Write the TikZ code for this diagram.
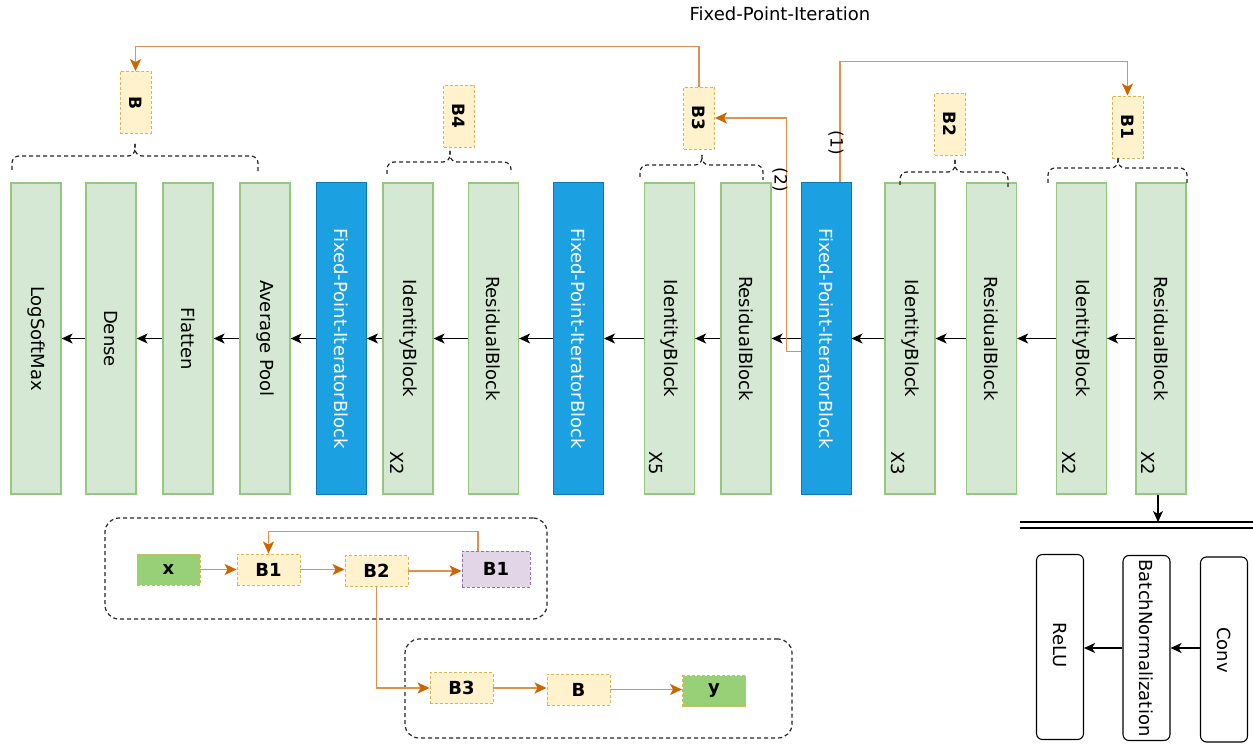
\documentclass[tikz,border=0pt]{standalone}
\usepackage{fontspec}
\setmainfont{DejaVu Sans}
\usetikzlibrary{arrows.meta}
\definecolor{gfill}{HTML}{D5E8D4}
\definecolor{gdraw}{HTML}{97C77F}
\definecolor{bfill}{HTML}{1BA1E2}
\definecolor{bdraw}{HTML}{0A78B8}
\definecolor{yfill}{HTML}{FFF2CC}
\definecolor{ydraw}{HTML}{D6B656}
\definecolor{xfill}{HTML}{97D077}
\definecolor{pfill}{HTML}{E1D5E7}
\definecolor{pdraw}{HTML}{9673A6}
\definecolor{orng}{HTML}{E0914E}
\definecolor{orngd}{HTML}{CC6600}
\newcommand{\mybrace}[7]{%
  \draw[brc] (#1,#2) -- (#1,#3) -- (#4,#3) -- (#4,#5);
  \draw[brc] (#4,#5) -- (#4,#3) -- (#6,#3) -- (#6,#7);}
\begin{document}
\begin{tikzpicture}[x=1pt,y=-1pt,font=\fontsize{18}{20}\selectfont,
  layer/.style={draw=gdraw,fill=gfill,line width=1.3pt,minimum width=50pt,minimum height=311pt,inner sep=0pt},
  fpib/.style={draw=bdraw,fill=bfill,line width=1pt,minimum width=50pt,minimum height=311pt,inner sep=0pt},
  bbox/.style={draw=ydraw,fill=yfill,line width=0.9pt,dash pattern=on 3pt off 2pt,minimum width=31pt,minimum height=62pt,inner sep=0pt},
  sbox/.style={draw=ydraw,fill=yfill,line width=0.9pt,dash pattern=on 3pt off 2pt,minimum width=63pt,minimum height=31pt,inner sep=0pt,font=\fontsize{18}{20}\selectfont\bfseries},
  rbox/.style={draw=black,fill=white,line width=1.1pt,rounded corners=6pt,minimum width=47pt,minimum height=185pt,inner sep=0pt},
  grp/.style={draw=black!85,line width=1.2pt,dash pattern=on 4pt off 3pt,rounded corners=14pt,inner sep=0pt},
  brc/.style={draw=black!85,line width=1.2pt,dash pattern=on 4pt off 3pt,rounded corners=7pt},
  vtxt/.style={rotate=-90,inner sep=0pt},
  barrow/.style={draw=black,line width=1.2pt,-{Stealth[length=11pt,width=10pt,inset=3pt]}},
  oarrow/.style={draw=orng,line width=1.7pt,-{Stealth[length=12pt,width=11pt,inset=3pt,color=orngd]}}]
\fill[white] (0,0) rectangle (1253,746);
\useasboundingbox (0,0) rectangle (1253,746);

\node (title) at (780,14) {Fixed-Point-Iteration};

% main layers
\node[layer] (ls) at (36,338.5) {};
\node[layer] (de) at (111,338.5) {};
\node[layer] (fl) at (188,338.5) {};
\node[layer] (ap) at (265,338.5) {};
\node[fpib]  (fp1) at (341.5,338.5) {};
\node[layer] (ib1) at (408,338.5) {};
\node[layer] (rb1) at (493.5,338.5) {};
\node[fpib]  (fp2) at (578.5,338.5) {};
\node[layer] (ib2) at (669.5,338.5) {};
\node[layer] (rb2) at (746,338.5) {};
\node[fpib]  (fp3) at (826,338.5) {};
\node[layer] (ib3) at (910,338.5) {};
\node[layer] (rb3) at (991.5,338.5) {};
\node[layer] (ib4) at (1081.5,338.5) {};
\node[layer] (rb4) at (1161,338.5) {};

\node[vtxt] (lsT) at (ls) {LogSoftMax};
\node[vtxt] (deT) at (de) {Dense};
\node[vtxt] (flT) at (fl) {Flatten};
\node[vtxt] (apT) at (ap) {Average Pool};
\node[vtxt,text=white] (fp1T) at (fp1) {Fixed-Point-IteratorBlock};
\node[vtxt] (ib1T) at (ib1) {IdentityBlock};
\node[vtxt] (rb1T) at (rb1) {ResidualBlock};
\node[vtxt,text=white] (fp2T) at (fp2) {Fixed-Point-IteratorBlock};
\node[vtxt] (ib2T) at (ib2) {IdentityBlock};
\node[vtxt] (rb2T) at (rb2) {ResidualBlock};
\node[vtxt,text=white] (fp3T) at (fp3) {Fixed-Point-IteratorBlock};
\node[vtxt] (ib3T) at (ib3) {IdentityBlock};
\node[vtxt] (rb3T) at (rb3) {ResidualBlock};
\node[vtxt] (ib4T) at (ib4) {IdentityBlock};
\node[vtxt] (rb4T) at (rb4) {ResidualBlock};

\node[vtxt] (x1) at (397,463) {X2};
\node[vtxt] (x2) at (656,463) {X5};
\node[vtxt] (x3) at (898,463) {X3};
\node[vtxt] (x4) at (1069,463) {X2};
\node[vtxt] (x5) at (1148,463) {X2};

% black arrows
\draw[barrow] (de.west) -- (ls.east);
\draw[barrow] (fl.west) -- (de.east);
\draw[barrow] (ap.west) -- (fl.east);
\draw[barrow] (fp1.west) -- (ap.east);
\draw[barrow] (ib1.west) -- (fp1.east);
\draw[barrow] (rb1.west) -- (ib1.east);
\draw[barrow] (fp2.west) -- (rb1.east);
\draw[barrow] (ib2.west) -- (fp2.east);
\draw[barrow] (rb2.west) -- (ib2.east);
\draw[barrow] (fp3.west) -- (rb2.east);
\draw[barrow] (ib3.west) -- (fp3.east);
\draw[barrow] (rb3.west) -- (ib3.east);
\draw[barrow] (ib4.west) -- (rb3.east);
\draw[barrow] (rb4.west) -- (ib4.east);

% B boxes
\node[bbox] (Bt) at (135.5,102.5) {};
\node[bbox] (B4t) at (459,116) {};
\node[bbox] (B3t) at (699,118) {};
\node[bbox] (B2t) at (950,124) {};
\node[bbox] (B1t) at (1127.5,127) {};
\node[vtxt,font=\fontsize{17}{20}\selectfont\bfseries] (BtT) at (Bt) {B};
\node[vtxt,font=\fontsize{17}{20}\selectfont\bfseries] (B4tT) at (B4t) {B4};
\node[vtxt,font=\fontsize{17}{20}\selectfont\bfseries] (B3tT) at (B3t) {B3};
\node[vtxt,font=\fontsize{17}{20}\selectfont\bfseries] (B2tT) at (B2t) {B2};
\node[vtxt,font=\fontsize{17}{20}\selectfont\bfseries] (B1tT) at (B1t) {B1};

% braces
\mybrace{12}{170}{156}{135}{144}{258}{173}
\mybrace{387}{174}{162}{450}{151}{511}{173}
\mybrace{640}{177}{165}{702}{155}{763}{180}
\mybrace{900}{185}{172}{955}{160}{1008}{187}
\mybrace{1048}{183}{168}{1118}{158}{1187}{183}

% orange connectors
\draw[oarrow] (B3t.north) -- ++(0,-40) -| (Bt.north);
\draw[oarrow] ([xshift=14pt]fp3.north) -- ++(0,-121) -| (B1t.north);
\draw[oarrow] ([yshift=-13pt]fp3.west) -- ++(-14,0) |- (B3t.east);
\node[vtxt,font=\fontsize{17}{20}\selectfont] (l1) at (836,143) {(1)};
\node[vtxt,font=\fontsize{17}{20}\selectfont] (l2) at (780,180) {(2)};

% double line and conv block
\coordinate (dlA) at (1020,522);
\coordinate (dlB) at (1253,522);
\draw[line width=1.1pt] (dlA) -- (dlB);
\draw[line width=1.1pt] ([yshift=-6pt]dlA) -- ([yshift=-6pt]dlB);
\draw[barrow] ([xshift=-3pt]rb4.south) -- ([xshift=-3pt]rb4.south |- dlA);

\node[rbox] (relu) at (1060,647) {};
\node[rbox] (bn) at (1146.5,648) {};
\node[rbox] (conv) at (1224,649.5) {};
\node[vtxt] (reluT) at (1060,645) {ReLU};
\node[vtxt] (bnT) at (bn) {BatchNormalization};
\node[vtxt] (convT) at (1224,650) {Conv};
\draw[barrow] (conv.west |- 0,648) -- (bn.east |- 0,648);
\draw[barrow] (bn.west |- 0,648) -- (relu.east |- 0,648);

% lower groups
\node[grp,minimum width=442pt,minimum height=101pt] (g1) at (326,568.5) {};
\node[grp,minimum width=387pt,minimum height=99pt] (g2) at (598.5,688.5) {};

\node[sbox,fill=xfill] (sx) at (168.5,569.5) {x};
\node[sbox] (sb1) at (268.5,569.5) {B1};
\node[sbox] (sb2) at (376.5,571) {B2};
\node[sbox,fill=pfill,draw=pdraw,minimum width=68pt,minimum height=36pt] (sp) at (496,569) {B1};
\node[sbox] (sb3) at (461.5,688) {B3};
\node[sbox] (sbb) at (578.5,689.5) {B};
\node[sbox,fill=xfill] (sy) at (714,691) {y};

\draw[oarrow] (sx.east) -- (sb1.west |- sx.east);
\draw[oarrow] (sb1.east) -- (sb1.east -| sb2.west);
\draw[oarrow] (sb2.east) -- (sb2.east -| sp.west);
\draw[oarrow] ([xshift=-18pt]sp.north) -- ++(0,-19) -| (sb1.north);
\draw[oarrow] (sb2.south) |- (sb3.west);
\draw[oarrow] (sb3.east) -- (sb3.east -| sbb.west);
\draw[oarrow] (sbb.east) -- (sbb.east -| sy.west);
\end{tikzpicture}
\end{document}
